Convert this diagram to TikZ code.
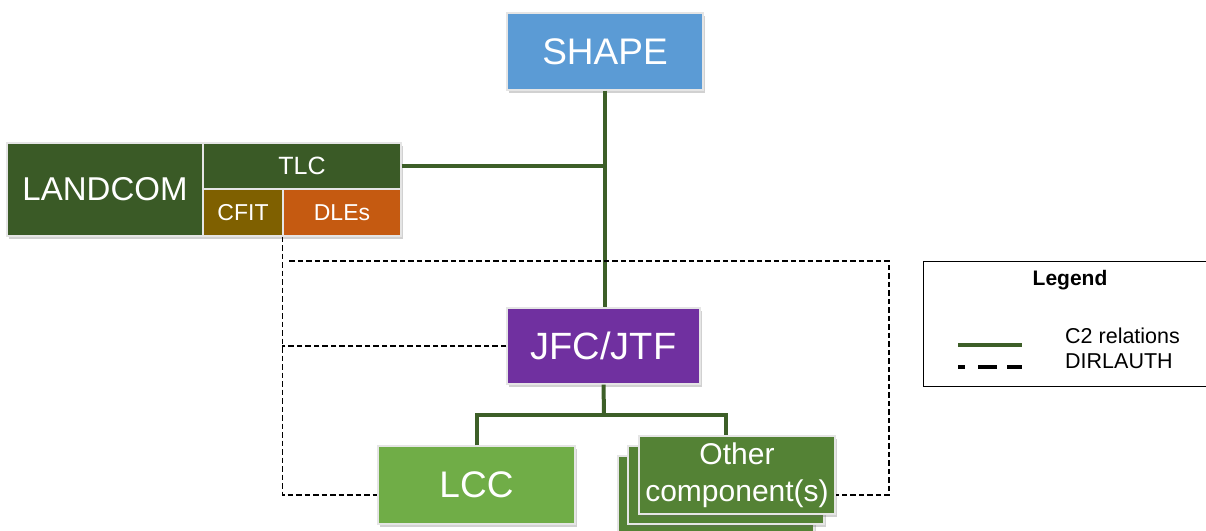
\documentclass[tikz,border=0pt]{standalone}
\usepackage{fontspec}
\setmainfont{Liberation Sans}
\usetikzlibrary{shadows}
\definecolor{shapeblue}{HTML}{5B9BD5}
\definecolor{landgreen}{HTML}{3A5A26}
\definecolor{cfitolive}{HTML}{7F6000}
\definecolor{dleorange}{HTML}{C55A11}
\definecolor{jfcpurple}{HTML}{7030A0}
\definecolor{lccgreen}{HTML}{70AD47}
\definecolor{othgreen}{HTML}{548235}
\definecolor{ctwogreen}{HTML}{3D5F28}
\begin{document}
\begin{tikzpicture}[x=1pt,y=-1pt]
                    \tikzstyle{every node}+=[inner sep=0pt]
                    \tikzstyle{unit}=[rectangle, text=white, draw=white!80!gray, line width=1.2pt,
                        drop shadow={shadow xshift=2pt, shadow yshift=-2.5pt, opacity=0.3, fill=black!60}]
                    \tikzstyle{ctwo}=[draw=ctwogreen, line width=4pt]
                    \tikzstyle{dirl}=[draw=black, line width=1.8pt, dash pattern=on 5.5pt off 3pt]
                    \useasboundingbox (0,0) rectangle (1206,530);
                    \node [unit, fill=shapeblue, minimum width=196, minimum height=77, font=\fontsize{37}{40}\selectfont] (shape) at (605,51.5) {SHAPE};
                    \node [unit, fill=landgreen, minimum width=196, minimum height=93, font=\fontsize{33}{36}\selectfont] (landcom) at (105,189.5) {LANDCOM};
                    \node [unit, fill=landgreen, minimum width=198, minimum height=46, font=\fontsize{25}{28}\selectfont] (tlc) at (302,166) {TLC};
                    \node [unit, fill=cfitolive, minimum width=80, minimum height=47, font=\fontsize{23}{26}\selectfont] (cfit) at (243,212.5) {CFIT};
                    \node [unit, fill=dleorange, minimum width=118, minimum height=47, font=\fontsize{23}{26}\selectfont] (dles) at (342,212.5) {DLEs};
                    \node [unit, fill=jfcpurple, minimum width=193, minimum height=76, font=\fontsize{38}{42}\selectfont] (jfc) at (603.5,346) {JFC/JTF};
                    \node [unit, fill=lccgreen, minimum width=197, minimum height=78, font=\fontsize{37}{40}\selectfont] (lcc) at (476.5,485) {LCC};
                    \node [unit, fill=othgreen, minimum width=196, minimum height=78] (other3) at (716,495) {};
                    \node [unit, fill=othgreen, minimum width=196, minimum height=78] (other2) at (726,485) {};
                    \node [unit, fill=othgreen, minimum width=196, minimum height=78, align=center, font=\fontsize{30}{37}\selectfont] (other) at (737,475) {Other\\component(s)};
                    \draw [ctwo] (shape.south) -- (shape.south |- jfc.north);
                    \draw [ctwo] (tlc.east) -- (tlc.east -| shape.south);
                    \coordinate (split) at (604,415);
                    \draw [ctwo] (jfc.south) -- (split);
                    \draw [ctwo] (lcc.north) |- (split) -| (other2.north |- other.north);
                    \coordinate (dtop) at (889,261);
                    \coordinate (dlow) at (889,495);
                    \draw [dirl] (dles.south west) -- (dles.south west |- dlow) -- (dlow -| lcc.west);
                    \draw [dirl] (jfc.west) -- (jfc.west -| dles.south west);
                    \draw [dirl] ([xshift=7pt]dtop -| dles.south west) -- (dtop) -- (dlow) -- (dlow -| other.east);
                    \node [draw=black, line width=1.3pt, minimum width=290, minimum height=125, anchor=north west] (legend) at (923,261) {};
                    \node [font=\bfseries\fontsize{21}{24}\selectfont] (legtitle) at (1070,280) {Legend};
                    \coordinate (cl) at (958,345);
                    \coordinate (cr) at (1022,345);
                    \coordinate (dl) at (958,367);
                    \coordinate (dr) at (1022,367);
                    \draw [ctwo] (cl) -- (cr);
                    \draw [black, line width=4.5pt, dash pattern=on 7pt off 13pt on 19pt off 10pt on 16pt] (dl) -- (dr);
                    \node [anchor=west, font=\fontsize{21.5}{24}\selectfont] (legctwo) at (1065,336) {C2 relations};
                    \node [anchor=west, font=\fontsize{21.5}{24}\selectfont] (legdirl) at (1065,361) {DIRLAUTH};
                \end{tikzpicture}
\end{document}
